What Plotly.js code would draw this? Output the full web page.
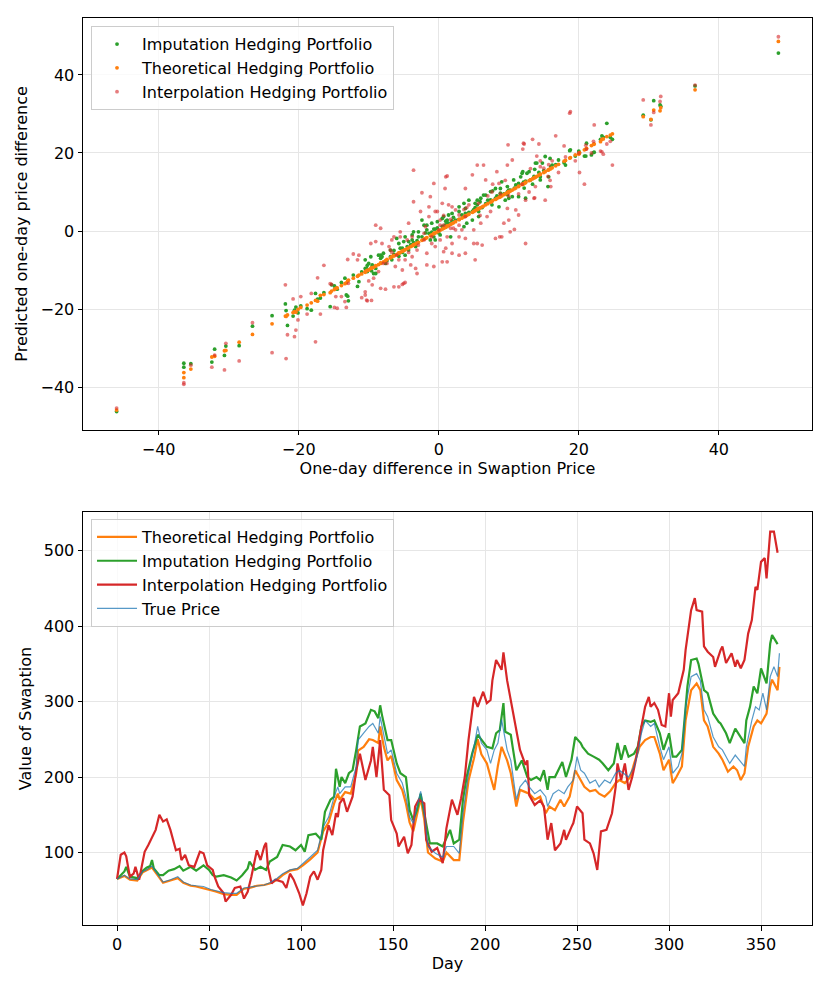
<!DOCTYPE html>
<html>
<head>
<meta charset="utf-8">
<script src="https://cdn.plot.ly/plotly-3.0.1.min.js"></script>
<style>
  html, body { margin: 0; padding: 0; background: #fff; }
  #chart { width: 830px; height: 982px; }
</style>
</head>
<body>
<div id="chart"></div>
<script>
const C_BLUE   = '#1f77b4';
const C_ORANGE = '#ff7f0e';
const C_GREEN  = '#2ca02c';
const C_RED    = '#d62728';

// ---- top panel: one-day differences ------------------------------------------
const diffX = [
  -46.0, -36.4, -36.4, -35.4, -32.4, -32.0, -30.6, -30.4, -28.5, -26.6,
  -23.8, -21.9, -21.8, -21.6, -20.8, -20.6, -20.4, -20.1, -19.7, -18.8,
  -18.2, -17.6, -17.3, -16.9, -16.4, -15.5, -15.3, -14.9, -14.7, -14.5,
  -13.9, -13.4, -13.2, -13.0, -12.9, -12.2, -11.6, -11.4, -11.0, -10.5,
  -10.5, -10.3, -10.2, -10.0, -9.7, -9.6, -9.5, -9.3, -9.0, -9.0,
  -8.6, -8.3, -8.3, -7.9, -7.6, -7.4, -6.9, -6.7, -6.4, -6.4,
  -6.0, -5.7, -5.7, -5.5, -5.2, -5.2, -5.0, -4.8, -4.5, -4.3,
  -4.0, -3.8, -3.6, -3.6, -3.3, -3.1, -2.9, -2.4, -2.1, -1.9,
  -1.7, -1.2, -1.0, -0.7, -0.7, -0.5, -0.2, 0.0, 0.2, 0.5,
  0.7, 0.9, 1.0, 1.0, 1.2, 1.2, 1.4, 1.7, 1.9, 2.1,
  2.4, 2.9, 2.9, 3.3, 3.6, 3.8, 3.8, 4.0, 4.3, 4.8,
  5.0, 5.2, 5.5, 5.5, 5.7, 5.9, 6.2, 6.4, 6.7, 7.0,
  7.4, 7.6, 7.7, 8.1, 8.3, 8.6, 8.7, 8.8, 9.0, 9.3,
  9.5, 9.8, 9.8, 9.9, 10.0, 10.0, 10.2, 10.5, 10.8, 11.0,
  11.4, 11.4, 11.9, 12.0, 12.1, 12.2, 12.4, 12.4, 12.9, 13.1,
  13.4, 13.6, 13.7, 13.8, 14.0, 14.3, 14.5, 14.5, 15.0, 15.2,
  15.6, 15.7, 15.9, 16.0, 16.2, 16.7, 17.1, 17.9, 18.1, 18.7,
  18.8, 19.5, 20.0, 20.1, 20.8, 21.0, 21.1, 21.8, 22.1, 22.2,
  23.1, 23.3, 23.5, 24.0, 24.5, 24.8, 29.2, 30.3, 30.7, 31.6,
  31.7, 36.6, 48.5,
];
const imputY = [
  -46.3, -33.9, -34.9, -34.0, -33.6, -30.3, -31.9, -29.5, -29.4, -24.4,
  -21.7, -18.7, -20.4, -24.2, -21.8, -20.3, -19.5, -21.0, -19.2, -19.9,
  -20.3, -16.0, -17.5, -17.2, -15.8, -19.4, -13.8, -14.1, -14.5, -14.9,
  -13.2, -12.1, -16.4, -16.7, -17.9, -11.3, -14.2, -13.0, -10.5, -9.6,
  -7.4, -9.6, -8.8, -8.3, -6.6, -10.2, -9.1, -10.9, -9.6, -10.9,
  -6.2, -6.2, -7.0, -5.7, -8.3, -7.6, -6.6, -7.4, -5.0, -6.0,
  -1.9, -5.8, -6.5, -4.4, -4.4, -5.5, -2.7, -6.2, -4.0, -4.9,
  -3.5, -2.3, -0.2, -3.0, -4.0, -2.5, -1.5, 2.8, 1.5, -0.5,
  0.3, -2.3, -0.3, -1.5, 0.5, 0.5, 0.8, -0.5, -1.0, 1.2,
  3.7, 1.5, 2.5, 1.0, 1.8, 2.2, 4.1, 2.0, 2.6, 3.5,
  2.8, 6.2, 3.0, 4.1, 7.1, 4.0, 4.5, 2.0, 4.8, 5.0,
  5.5, 6.0, 6.7, 7.9, 3.7, 7.5, 6.0, 9.2, 7.0, 7.9,
  8.0, 6.7, 10.3, 8.4, 9.0, 6.2, 8.9, 10.9, 12.6, 9.5,
  7.9, 10.0, 9.3, 10.2, 10.5, 8.4, 10.5, 8.8, 11.0, 11.8,
  12.2, 8.8, 14.8, 15.2, 12.5, 11.0, 8.4, 12.8, 15.2, 13.1,
  12.0, 14.0, 15.8, 17.4, 17.4, 15.0, 13.9, 13.1, 15.5, 19.1,
  11.4, 13.9, 18.6, 16.5, 16.9, 17.0, 18.2, 17.5, 16.9, 20.6,
  20.8, 19.2, 20.5, 20.0, 19.2, 19.2, 22.5, 19.5, 20.1, 20.2,
  23.5, 24.4, 24.0, 27.6, 24.0, 23.5, 29.7, 28.5, 33.4, 32.3,
  32.0, 37.2, 45.6,
];
const theoY = [
  -45.9, -36.3, -37.6, -35.4, -32.3, -32.1, -30.7, -30.6, -28.5, -26.5,
  -23.8, -21.8, -21.9, -21.5, -20.9, -20.7, -20.8, -20.1, -19.6, -19.0,
  -18.4, -17.8, -18.0, -16.5, -16.3, -15.8, -15.4, -15.0, -14.7, -14.6,
  -14.0, -13.5, -13.3, -12.8, -12.6, -12.1, -11.6, -11.3, -11.0, -10.4,
  -10.6, -10.2, -10.1, -10.0, -9.6, -9.5, -9.4, -9.3, -9.0, -8.9,
  -8.6, -8.3, -8.2, -7.9, -7.6, -7.3, -6.9, -6.6, -6.4, -6.3,
  -6.0, -5.7, -5.6, -5.5, -5.2, -5.1, -5.0, -4.8, -4.5, -4.3,
  -4.0, -3.8, -3.6, -3.5, -3.3, -3.1, -2.9, -2.4, -2.1, -1.9,
  -1.7, -1.2, -1.0, -0.7, -0.6, -0.5, -0.2, 0.0, 0.2, 0.5,
  0.7, 0.9, 1.0, 1.1, 1.2, 1.3, 1.4, 1.7, 1.9, 2.1,
  2.4, 2.9, 3.0, 3.3, 3.6, 3.8, 3.9, 4.0, 4.3, 4.8,
  5.0, 5.2, 5.5, 5.6, 5.7, 5.9, 6.2, 6.4, 6.7, 7.0,
  7.4, 7.6, 7.8, 8.1, 8.3, 8.6, 8.7, 8.8, 9.0, 9.3,
  9.5, 9.8, 9.9, 9.9, 10.0, 10.1, 10.2, 10.5, 10.8, 11.0,
  11.4, 11.5, 11.9, 12.0, 12.1, 12.2, 12.4, 12.5, 12.9, 13.1,
  13.4, 13.6, 13.7, 13.8, 14.0, 14.3, 14.5, 14.6, 15.0, 15.2,
  15.6, 15.7, 15.9, 16.0, 16.2, 16.7, 17.1, 17.9, 18.1, 18.7,
  18.8, 19.5, 19.7, 20.1, 20.8, 21.0, 21.2, 21.9, 22.2, 22.3,
  22.9, 23.5, 23.6, 24.2, 24.6, 24.9, 29.3, 28.6, 31.0, 30.8,
  31.6, 36.2, 48.6,
];
const interpY = [
  -45.4, -38.9, -39.3, -34.4, -34.9, -31.8, -35.6, -28.8, -33.3, -23.5,
  -31.2, -13.8, -32.7, -26.6, -17.4, -27.1, -25.4, -22.8, -16.8, -21.3,
  -16.0, -28.4, -12.0, -21.3, -8.8, -13.5, -13.7, -19.6, -16.8, -19.8,
  -16.8, -18.1, -19.6, -7.3, -13.4, -5.9, -7.4, -6.2, -17.1, -15.6,
  -16.4, -17.7, -17.9, -12.8, -3.2, -17.8, -13.8, -12.1, 1.5, -2.7,
  -10.4, 0.7, -14.7, -8.3, -14.9, -8.3, -4.9, -5.5, -14.3, -1.5,
  -6.2, -14.3, -7.4, -0.2, -10.0, -13.7, -13.4, -13.2, -2.3, -5.5,
  -8.7, -1.5, 15.6, 7.5, -9.6, -10.9, -3.6, 9.8, -0.6, 1.1,
  -8.7, 8.8, -1.5, 12.2, -9.1, -4.0, 5.0, 0.3, 1.5, -7.9,
  4.0, 10.9, -4.4, 13.9, 14.1, -7.9, 6.7, 3.0, -5.7, 0.7,
  5.4, 1.5, -6.2, 0.3, 5.5, 10.9, -5.7, 6.0, 6.7, 14.4,
  -3.2, -7.4, 16.9, -3.2, 7.1, 4.0, -3.6, 16.9, 13.1, 9.0,
  5.0, 10.0, 12.0, -1.9, 15.2, 12.2, -1.5, 9.5, -1.5, 2.0,
  13.0, 16.9, 5.8, 22.1, 2.8, 9.0, -0.2, 18.2, 0.4, 5.4,
  4.1, 9.5, 12.0, 21.0, 22.5, 22.3, 7.9, -3.2, 10.0, 16.0,
  23.5, 8.4, 8.5, 11.4, 19.2, 22.3, 18.0, 16.5, 16.1, 7.9,
  14.0, 17.0, 13.0, 11.4, 18.0, 24.4, 15.0, 21.8, 19.0, 30.2,
  30.6, 18.0, 20.0, 15.0, 12.0, 22.0, 21.0, 20.0, 23.0, 27.2,
  20.5, 20.3, 19.7, 22.3, 23.0, 16.9, 33.6, 27.2, 30.4, 33.2,
  34.5, 37.4, 49.8,
];

// extra points from the dense centre of the cloud
const imputExtraX = [
  -10.2, -9.5, -8.1, -6.9, -5.7, -4.8, -4.3, -3.8, -2.9, -2.4,
  -1.7, -1.4, -1.0, -0.5, -0.2, 0.5, 1.2, 1.7, 1.9, 2.9,
  3.6, 3.8, 4.3, 4.8, 5.2, 5.7, 6.0, 6.7, 7.4, 8.1,
  8.8, 9.8, 10.7, 11.7, 12.6, 14.8,
];
const imputExtraY = [
  -10.4, -8.7, -6.6, -4.9, -3.2, -1.5, -2.7, -1.0, -0.2, -1.5,
  1.5, -0.6, 2.0, -2.3, 2.4, 3.2, 2.8, -1.5, 4.5, 5.0,
  1.1, 5.8, 7.9, 2.8, 7.1, 5.0, 8.4, 9.2, 10.1, 10.9,
  9.7, 11.4, 13.1, 13.9, 14.8, 17.4,
];
const interpExtraX = [
  -8.1, -7.1, -6.7, -6.2, -5.5, -4.8, -4.3, -3.8, -3.1, -2.6,
  -2.1, -1.7, -1.4, -1.4, -1.0, -0.5, 0.2, 0.2, 0.5, 0.7,
  0.7, 1.2, 1.7, 1.9, 1.9, 2.4, 2.9, 2.9, 3.8, 3.8,
  5.0, 6.0, 6.9,
];
const interpExtraY = [
  -3.2, -4.0, -2.3, -9.1, -1.5, -7.4, 2.0, -6.6, -4.9, 5.0,
  -2.3, -5.7, 3.7, 6.2, -3.2, 5.0, 2.8, -2.3, 7.1, 1.5,
  -5.3, -1.5, 0.7, -3.2, 6.2, 0.3, -1.5, 4.1, -1.9, 3.7,
  0.3, 2.0, 3.7,
];

// ---- bottom panel: portfolio values by day -----------------------------------
const theoDay = [
  0, 4, 7, 11, 14, 16, 19, 22, 25, 29, 33, 36, 40, 43, 47, 51, 54, 58, 62, 65,
  69, 72, 76, 80, 83, 87, 90, 94, 98, 101, 105, 109, 112, 115, 118, 120, 121, 124, 127, 130,
  131, 134, 137, 139, 142, 143, 145, 147, 149, 152, 155, 157, 159, 161, 165, 167, 169, 173, 177, 179,
  183, 186, 188, 191, 194, 196, 198, 201, 203, 205, 207, 209, 212, 214, 217, 219, 222, 224, 227, 230,
  233, 235, 238, 241, 243, 246, 249, 252, 254, 257, 260, 262, 265, 268, 271, 273, 276, 279, 281, 284,
  287, 290, 292, 295, 297, 300, 302, 304, 307, 309, 312, 315, 317, 319, 321, 324, 327, 329, 332, 335,
  337, 339, 341, 343, 346, 348, 350, 353, 355, 356, 359, 360,
];
const theoVal = [
  65, 69, 64, 63, 74, 76, 80, 70, 60, 63, 66, 60, 56, 55, 53, 50, 48, 45, 44, 44,
  52, 53, 56, 57, 59, 64, 70, 76, 78, 83, 91, 100, 128, 140, 165, 178, 170, 180, 178, 205,
  235, 240, 250, 249, 245, 267, 240, 222, 228, 196, 183, 165, 140, 128, 172, 143, 100, 92, 88, 100,
  90, 90, 140, 195, 225, 250, 230, 218, 200, 183, 215, 240, 222, 205, 161, 183, 180, 178, 170, 174,
  152, 161, 156, 170, 161, 174, 209, 196, 187, 181, 183, 178, 174, 181, 192, 196, 192, 200, 218, 240,
  249, 253, 253, 231, 209, 223, 192, 200, 214, 275, 315, 324, 315, 275, 267, 240, 231, 223, 207, 214,
  209, 196, 205, 240, 267, 275, 271, 284, 320, 329, 315, 346,
];

const imputDay = [
  0, 4, 5, 7, 11, 14, 16, 18, 19, 20, 23, 25, 28, 31, 34, 36, 40, 43, 47, 50,
  52, 54, 58, 62, 65, 68, 71, 72, 75, 78, 81, 83, 87, 90, 94, 97, 100, 102, 104, 108,
  111, 113, 116, 118, 119, 121, 122, 124, 126, 128, 130, 132, 135, 138, 140, 142, 143, 144, 147, 149,
  152, 154, 157, 159, 161, 163, 165, 168, 170, 174, 177, 181, 183, 186, 188, 190, 193, 196, 198, 201,
  204, 206, 208, 210, 211, 214, 215, 217, 220, 223, 225, 228, 230, 232, 234, 235, 238, 240, 242, 244,
  247, 249, 252, 253, 256, 259, 262, 264, 267, 270, 272, 274, 276, 278, 281, 283, 285, 287, 290, 292,
  295, 297, 300, 302, 304, 307, 308, 310, 312, 315, 316, 319, 321, 324, 327, 328, 331, 333, 336, 338,
  341, 342, 344, 346, 348, 350, 353, 355, 356, 359,
];
const imputVal = [
  65, 75, 81, 68, 66, 76, 80, 82, 90, 79, 70, 70, 76, 78, 82, 76, 81, 76, 83, 77,
  70, 68, 70, 67, 63, 70, 79, 88, 77, 81, 77, 88, 94, 110, 108, 103, 110, 101, 123, 125,
  117, 154, 170, 174, 211, 187, 200, 192, 205, 209, 236, 267, 271, 289, 287, 278, 295, 282, 249, 249,
  218, 205, 200, 156, 143, 156, 178, 139, 112, 112, 108, 130, 112, 117, 170, 200, 231, 256, 249, 240,
  238, 258, 262, 298, 260, 256, 240, 209, 222, 200, 196, 200, 196, 209, 183, 200, 200, 209, 220, 200,
  223, 253, 245, 240, 231, 227, 223, 218, 209, 218, 245, 223, 242, 227, 231, 240, 267, 275, 273, 275,
  258, 236, 258, 227, 227, 236, 267, 320, 355, 357, 350, 315, 311, 284, 273, 271, 258, 245, 264, 256,
  245, 275, 293, 320, 311, 344, 324, 377, 388, 376,
];

const interpDay = [
  0, 2, 4, 5, 6, 7, 9, 10, 12, 14, 15, 17, 19, 21, 23, 25, 27, 29, 32, 34,
  35, 37, 39, 42, 45, 47, 49, 52, 53, 55, 58, 59, 62, 64, 67, 69, 71, 73, 76, 78,
  80, 81, 82, 84, 86, 90, 92, 94, 96, 99, 101, 103, 105, 107, 109, 111, 112, 115, 117, 119,
  120, 121, 123, 125, 128, 130, 132, 135, 138, 139, 141, 143, 145, 148, 149, 152, 153, 156, 158, 160,
  162, 164, 167, 168, 171, 174, 177, 179, 182, 185, 187, 189, 191, 194, 196, 199, 201, 203, 204, 206,
  209, 210, 212, 214, 216, 219, 222, 223, 224, 227, 230, 232, 234, 236, 238, 241, 243, 244, 247, 248,
  250, 253, 254, 257, 259, 261, 263, 266, 269, 271, 272, 274, 276, 278, 280, 282, 285, 287, 289, 290,
  292, 294, 296, 298, 300, 301, 302, 305, 308, 309, 312, 314, 315, 318, 319, 321, 324, 325, 328, 329,
  331, 334, 336, 337, 339, 341, 343, 345, 347, 348, 350, 352, 353, 355, 357, 359,
];
const interpVal = [
  65, 97, 100, 95, 81, 68, 72, 81, 64, 86, 101, 110, 121, 130, 150, 141, 144, 130, 103, 105,
  90, 97, 83, 81, 101, 99, 83, 77, 68, 55, 46, 35, 44, 53, 55, 39, 48, 68, 103, 90,
  108, 113, 81, 59, 64, 61, 53, 72, 64, 46, 30, 46, 68, 75, 64, 77, 103, 136, 123, 152,
  147, 165, 172, 154, 174, 209, 231, 196, 222, 240, 200, 249, 183, 176, 143, 125, 108, 121, 99, 110,
  161, 170, 165, 117, 101, 106, 86, 132, 170, 150, 172, 200, 249, 306, 293, 313, 298, 302, 328, 355,
  342, 365, 328, 302, 276, 236, 216, 222, 176, 163, 169, 161, 117, 139, 103, 112, 130, 117, 134, 139,
  161, 152, 117, 112, 99, 77, 128, 130, 152, 187, 218, 196, 218, 183, 200, 223, 267, 293, 306, 293,
  298, 289, 269, 267, 311, 280, 302, 311, 342, 368, 421, 437, 421, 419, 373, 366, 359, 346, 368, 373,
  351, 364, 346, 355, 344, 355, 390, 408, 452, 448, 485, 490, 463, 525, 525, 497,
];

const trueDay = [
  0, 4, 7, 11, 14, 16, 19, 22, 25, 29, 33, 36, 40, 43, 47, 51, 54, 58, 62, 65,
  69, 72, 76, 80, 83, 87, 90, 94, 98, 101, 105, 109, 112, 115, 118, 120, 121, 124, 127, 130,
  131, 134, 137, 139, 142, 143, 145, 147, 149, 152, 155, 157, 159, 161, 165, 167, 169, 173, 177, 179,
  183, 186, 188, 191, 194, 196, 198, 201, 203, 205, 207, 209, 212, 214, 217, 219, 222, 224, 227, 230,
  233, 234, 237, 240, 243, 245, 248, 250, 252, 254, 257, 260, 262, 265, 268, 271, 273, 275, 278, 281,
  283, 285, 287, 290, 292, 295, 297, 300, 302, 305, 307, 309, 312, 315, 317, 319, 321, 324, 327, 329,
  331, 333, 336, 338, 341, 342, 345, 347, 349, 351, 353, 355, 357, 359, 360,
];
const trueVal = [
  65, 70, 65, 64, 75, 77, 82, 72, 61, 64, 68, 61, 57, 56, 55, 51, 49, 47, 46, 46,
  53, 54, 56, 57, 60, 66, 72, 77, 79, 85, 94, 103, 134, 147, 174, 187, 178, 187, 187, 214,
  249, 258, 267, 271, 258, 280, 253, 231, 236, 205, 192, 174, 147, 139, 181, 152, 108, 99, 94, 108,
  108, 99, 152, 205, 240, 267, 245, 236, 218, 236, 245, 276, 236, 222, 170, 187, 196, 187, 178, 183,
  174, 161, 178, 183, 178, 187, 196, 227, 209, 205, 192, 196, 187, 196, 192, 205, 209, 205, 200, 214,
  231, 258, 275, 267, 271, 240, 223, 240, 205, 214, 231, 293, 333, 337, 328, 289, 280, 253, 240, 236,
  227, 218, 229, 223, 214, 240, 275, 293, 289, 311, 289, 333, 346, 333, 364,
];

// ---- shared axis styling -----------------------------------------------------
const FONT_SIZE = 16;
const axisStyle = {
  showline: true, linecolor: '#000', linewidth: 1, mirror: true,
  ticks: 'outside', ticklen: 4.5, tickwidth: 1, tickcolor: '#000',
  showgrid: true, gridcolor: '#e6e6e6', gridwidth: 1,
  zeroline: false,
  tickfont: { size: FONT_SIZE, color: '#000' },
};
const titleFont = { size: FONT_SIZE, color: '#000' };

function scatterTrace(name, xs, ys, color, opacity) {
  return {
    type: 'scatter', mode: 'markers',
    x: xs, y: ys, name,
    xaxis: 'x', yaxis: 'y', legend: 'legend', legendgroup: name,
    marker: { color, size: 3.8, opacity, line: { width: 0 } },
    hoverinfo: 'skip',
  };
}

function lineTrace(name, days, vals, color, width, opacity) {
  return {
    type: 'scatter', mode: 'lines',
    x: days, y: vals, name,
    xaxis: 'x2', yaxis: 'y2', legend: 'legend2', legendgroup: name,
    line: { color, width }, opacity,
    hoverinfo: 'skip',
  };
}

const traces = [
  scatterTrace('Imputation Hedging Portfolio',
               diffX.concat(imputExtraX), imputY.concat(imputExtraY), C_GREEN, 1),
  scatterTrace('Theoretical Hedging Portfolio', diffX, theoY, C_ORANGE, 1),
  scatterTrace('Interpolation Hedging Portfolio',
               diffX.concat(interpExtraX), interpY.concat(interpExtraY), C_RED, 0.6),
  lineTrace('Theoretical Hedging Portfolio', theoDay, theoVal, C_ORANGE, 2.2, 1),
  lineTrace('Imputation Hedging Portfolio', imputDay, imputVal, C_GREEN, 2.2, 1),
  lineTrace('Interpolation Hedging Portfolio', interpDay, interpVal, C_RED, 2.2, 1),
  lineTrace('True Price', trueDay, trueVal, C_BLUE, 1.2, 0.75),
];

const legendStyle = {
  bgcolor: 'rgba(255,255,255,0.8)', bordercolor: '#cccccc', borderwidth: 1,
  font: { size: FONT_SIZE, color: '#000' },
  xanchor: 'left', yanchor: 'top', x: 0.011,
  traceorder: 'grouped', tracegroupgap: 0, itemwidth: 40,
};

const layout = {
  width: 830, height: 982,
  paper_bgcolor: '#fff', plot_bgcolor: '#fff',
  font: { family: 'DejaVu Sans, sans-serif', size: FONT_SIZE, color: '#000' },
  margin: { l: 83, r: 18, t: 18, b: 57 },
  showlegend: true,
  xaxis: {
    ...axisStyle, domain: [0, 1], anchor: 'y',
    range: [-50.8, 53.3], dtick: 20, tick0: 0,
    title: { text: 'One-day difference in Swaption Price', font: titleFont, standoff: 4 },
  },
  yaxis: {
    ...axisStyle, domain: [0.5458, 1], anchor: 'x',
    range: [-51, 54.6], dtick: 20, tick0: 0,
    title: { text: 'Predicted one-day price difference', font: titleFont, standoff: 8 },
  },
  xaxis2: {
    ...axisStyle, domain: [0, 1], anchor: 'y2',
    range: [-18.5, 377.7], dtick: 50, tick0: 0,
    title: { text: 'Day', font: titleFont, standoff: 5 },
  },
  yaxis2: {
    ...axisStyle, domain: [0, 0.4553], anchor: 'x2',
    range: [4, 551], dtick: 100, tick0: 0,
    title: { text: 'Value of Swaption', font: titleFont, standoff: 8 },
  },
  legend:  { ...legendStyle, y: 0.991 },
  legend2: { ...legendStyle, y: 0.4476 },
};

Plotly.newPlot('chart', traces, layout, { displayModeBar: false, staticPlot: true });
</script>
</body>
</html>
